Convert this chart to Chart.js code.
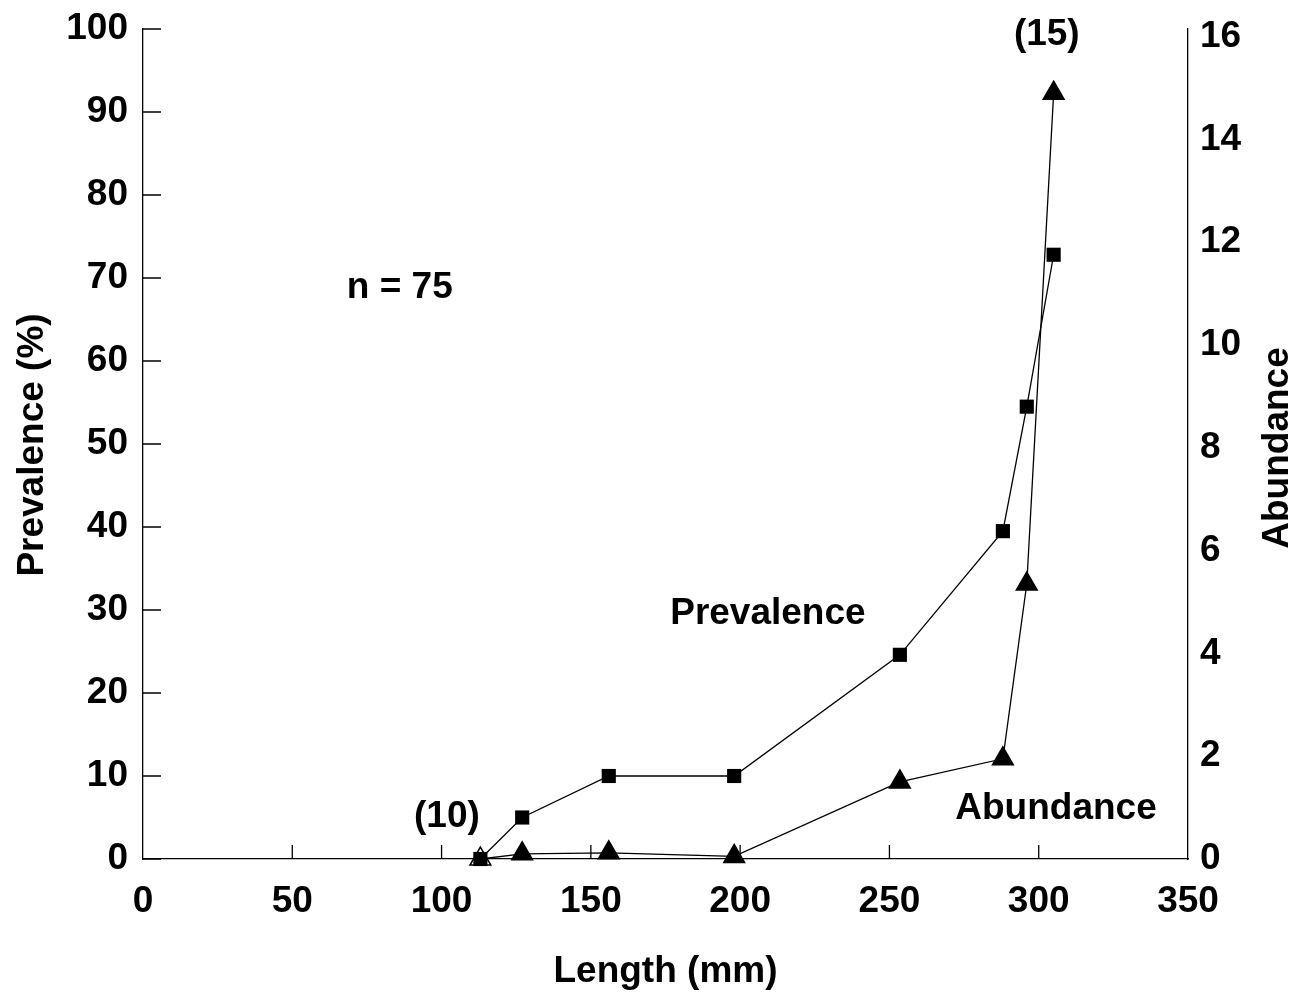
<!DOCTYPE html>
<html>
<head>
<meta charset="utf-8">
<script src="https://cdn.jsdelivr.net/npm/chart.js@4.4.0/dist/chart.umd.min.js"></script>
<style>
  html, body { margin: 0; padding: 0; background: #fff; }
  #wrap { width: 1305px; height: 1003px; }
</style>
</head>
<body>
<div id="wrap"><canvas id="myChart"></canvas></div>
<script>
// values
const lengths = [113, 127, 156, 198, 253.5, 288, 296, 305]
const prevalence = [0, 5, 10, 10, 24.6, 39.5, 54.5, 72.8]
const abundance = [0, 0.1, 0.12, 0.05, 1.5, 1.95, 5.35, 14.9]
const xTicks = [0, 50, 100, 150, 200, 250, 300, 350]
const leftTicks = [0, 10, 20, 30, 40, 50, 60, 70, 80, 90, 100]
const rightTicks = [0, 2, 4, 6, 8, 10, 12, 14, 16]

const canvas = document.getElementById('myChart')
const FAMILY = '"Liberation Sans", Arial, Helvetica, sans-serif'
const font = { family: FAMILY, size: 37, weight: 'bold' }
const cssFont = `bold 37px ${FAMILY}`

const toPoints = ys => lengths.map((x, i) => ({ x, y: ys[i] }))

// fixed axis box sizes so the plot area lands where it is in the figure
function fitVertical(width) {
    return s => {
        s.width = width
        s.paddingTop = 0
        s.paddingBottom = 0
    }
}

// inner tick marks, axis titles and the text labels inside the plot
const decorations = {
    id: 'decorations',
    afterDraw(chart) {
        const { ctx, chartArea: a, scales } = chart
        ctx.save()
        ctx.strokeStyle = '#000'
        ctx.lineWidth = 1.3
        ctx.beginPath()
        for (const v of leftTicks) {
            const y = scales.y.getPixelForValue(v)
            ctx.moveTo(a.left, y)
            ctx.lineTo(a.left + 18, y)
        }
        for (const v of xTicks.slice(1, -1)) {
            const x = scales.x.getPixelForValue(v)
            ctx.moveTo(x, a.bottom)
            ctx.lineTo(x, a.bottom - 14)
        }
        ctx.stroke()

        ctx.fillStyle = '#000'
        ctx.font = cssFont
        ctx.textAlign = 'center'
        ctx.textBaseline = 'middle'

        ctx.fillText('Length (mm)', (a.left + a.right) / 2, a.bottom + 113)

        const midY = (a.top + a.bottom) / 2
        ctx.save()
        ctx.translate(a.left - 110, midY + 1)
        ctx.rotate(-Math.PI / 2)
        ctx.fillText('Prevalence (%)', 0, 0)
        ctx.restore()

        ctx.save()
        ctx.translate(a.right + 90, midY + 4)
        ctx.rotate(-Math.PI / 2)
        ctx.fillText('Abundance', 0, 0)
        ctx.restore()

        const notes = [
            ['n = 75', 86, 68.8],
            ['(10)', 101.8, 5.1],
            ['(15)', 302.7, 99.3],
            ['Prevalence', 209.3, 29.5],
            ['Abundance', 305.8, 6.1]
        ]
        for (const [text, x, y] of notes) {
            ctx.fillText(text, scales.x.getPixelForValue(x), scales.y.getPixelForValue(y))
        }
        ctx.restore()
    }
}

const config = {
    type: 'line',
    data: {
        datasets: [{
            label: 'Prevalence',
            data: toPoints(prevalence),
            yAxisID: 'y',
            borderColor: '#000',
            borderWidth: 1.3,
            pointStyle: 'rect',
            pointRadius: 10,
            pointBackgroundColor: '#000',
            pointBorderWidth: 0,
            tension: 0,
            clip: false
        }, {
            label: 'Abundance',
            data: toPoints(abundance),
            yAxisID: 'y1',
            borderColor: '#000',
            borderWidth: 1.3,
            pointStyle: 'triangle',
            pointRadius: 12,
            pointBackgroundColor: abundance.map((v, i) => i === 0 ? '#fff' : '#000'),
            pointBorderColor: '#000',
            pointBorderWidth: 1.5,
            tension: 0,
            clip: false
        }]
    },
    options: {
        responsive: true,
        maintainAspectRatio: false,
        animation: false,
        events: [],
        layout: { padding: { top: 29, left: 0, right: 0, bottom: 0 } },
        plugins: {
            legend: { display: false },
            tooltip: { enabled: false }
        },
        scales: {
            x: {
                type: 'linear',
                min: 0,
                max: 350,
                afterBuildTicks: s => { s.ticks = xTicks.map(value => ({ value })) },
                afterFit: s => {
                    s.height = 144
                    s.paddingLeft = 0
                    s.paddingRight = 0
                },
                grid: { display: true, drawOnChartArea: false, drawTicks: false },
                border: { display: true, color: '#000', width: 1.3 },
                ticks: { color: '#000', font, padding: 21, maxRotation: 0 }
            },
            y: {
                position: 'left',
                min: 0,
                max: 100,
                afterBuildTicks: s => { s.ticks = leftTicks.map(value => ({ value })) },
                afterFit: fitVertical(143),
                grid: { display: true, drawOnChartArea: false, drawTicks: false },
                border: { display: true, color: '#000', width: 1.3 },
                ticks: { color: '#000', font, padding: 15 }
            },
            y1: {
                position: 'right',
                min: 0,
                max: 16.15,
                afterBuildTicks: s => { s.ticks = rightTicks.map(value => ({ value })) },
                afterFit: fitVertical(117),
                grid: { display: true, drawOnChartArea: false, drawTicks: false },
                border: { display: true, color: '#000', width: 1.3 },
                ticks: { color: '#000', font, padding: 12 }
            }
        }
    },
    plugins: [decorations]
}

new Chart(canvas, config)
</script>
</body>
</html>
